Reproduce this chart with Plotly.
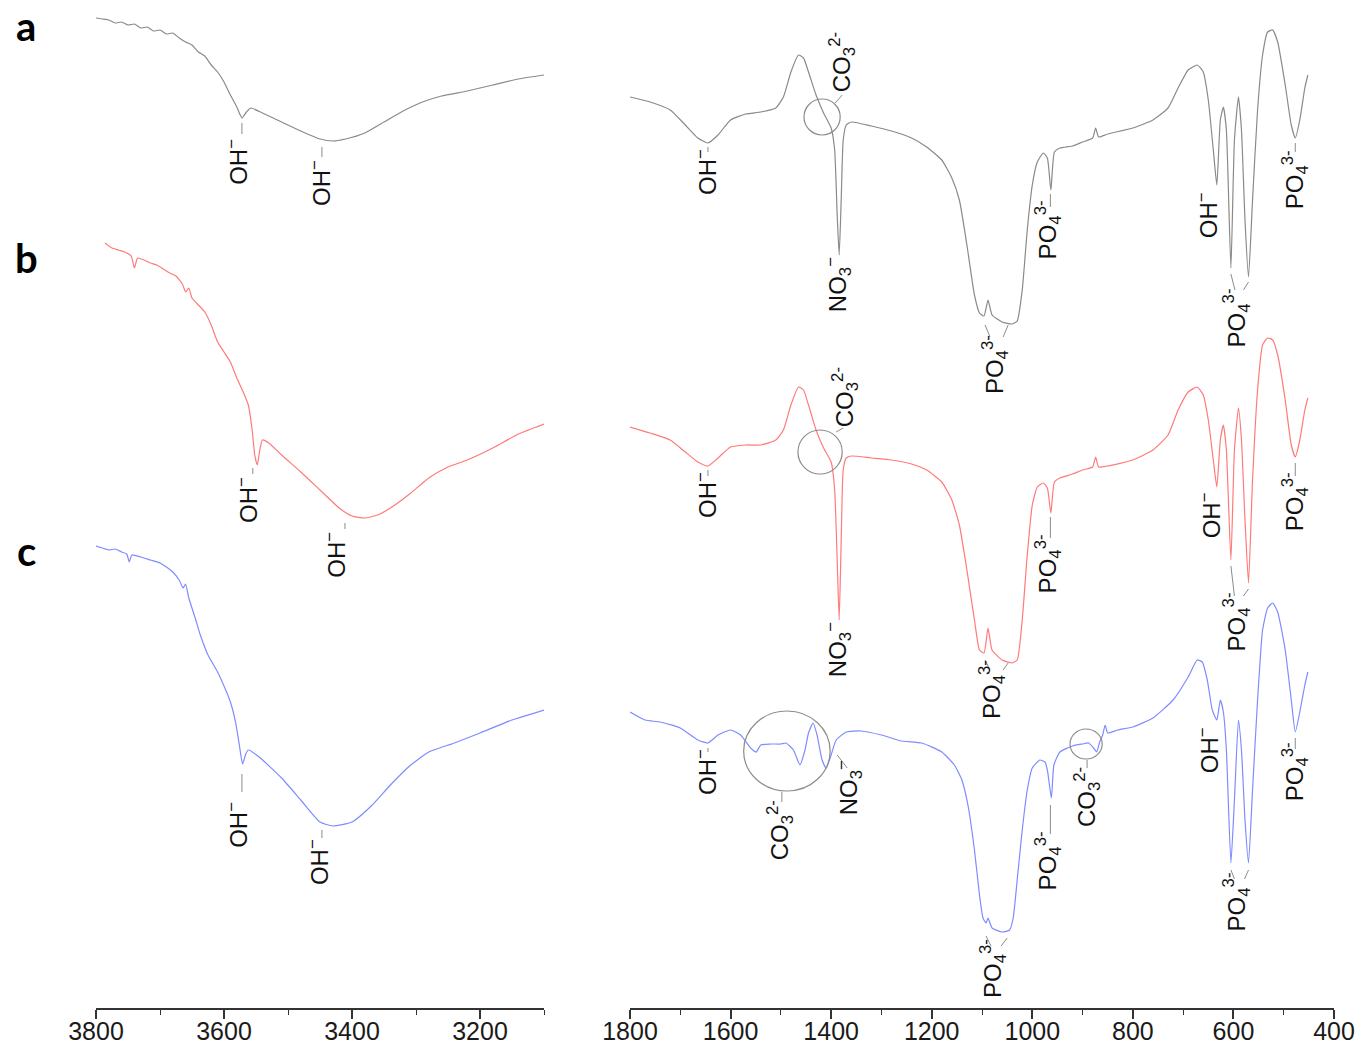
import plotly.graph_objects as go

# ---------------- data (transmittance, arbitrary units, spectra stacked) ----------------
# Left panel (3800-3100 cm-1)
wn_a_left = [3800, 3790, 3780, 3770, 3760, 3750, 3740, 3730, 3720, 3710, 3700, 3690, 3680, 3670,
             3660, 3650, 3640, 3630, 3620, 3610, 3600, 3590, 3580, 3572, 3565, 3558, 3540, 3510,
             3480, 3450, 3430, 3410, 3380, 3350, 3320, 3290, 3260, 3220, 3180, 3140, 3100]
t_a_left = [982, 981, 980, 977, 978, 975, 976, 972, 973, 969, 970, 966, 967, 962,
            958, 955, 948, 944, 935, 928, 918, 905, 893, 882, 888, 892, 887, 878,
            869, 861, 859, 861, 867, 878, 889, 898, 904, 909, 915, 921, 925]

wn_b_left = [3786, 3775, 3765, 3755, 3745, 3740, 3735, 3725, 3715, 3705, 3695, 3685, 3675, 3665,
             3660, 3655, 3650, 3640, 3630, 3620, 3610, 3600, 3590, 3580, 3570, 3562, 3556, 3552,
             3548, 3544, 3540, 3530, 3510, 3480, 3450, 3420, 3400, 3380, 3360, 3340, 3310, 3280,
             3250, 3220, 3180, 3140, 3100]
t_b_left = [757, 752, 750, 748, 744, 732, 742, 740, 737, 735, 731, 727, 724, 716,
            708, 712, 702, 695, 688, 675, 658, 648, 638, 622, 608, 595, 570, 545,
            535, 550, 560, 557, 545, 528, 510, 492, 484, 482, 485, 492, 506, 522,
            533, 540, 552, 566, 576]

wn_c_left = [3800, 3790, 3780, 3770, 3760, 3752, 3748, 3744, 3730, 3715, 3700, 3690, 3680, 3670,
             3664, 3660, 3655, 3645, 3637, 3625, 3610, 3600, 3590, 3582, 3576, 3571, 3566, 3562,
             3545, 3510, 3480, 3450, 3430, 3400, 3370, 3340, 3310, 3280, 3240, 3200, 3150, 3100]
t_c_left = [454, 452, 450, 451, 448, 446, 438, 445, 443, 440, 437, 433, 428, 420,
            412, 416, 402, 382, 365, 345, 328, 314, 298, 278, 255, 236, 246, 250,
            243, 222, 200, 178, 174, 178, 194, 215, 234, 248, 257, 267, 280, 290]

# Right panel (1800-400 cm-1)
wn_ab_right = [1800, 1760, 1720, 1690, 1665, 1645, 1625, 1600, 1570, 1540, 1510, 1495, 1480, 1465,
               1455, 1445, 1430, 1415, 1400, 1393, 1388, 1384, 1380, 1376, 1370, 1360, 1320, 1280,
               1240, 1210, 1180, 1160, 1145, 1130, 1115, 1105, 1096, 1088, 1080, 1060, 1040, 1030,
               1020, 1010, 1000, 990, 978, 970, 963, 956, 945, 920, 900, 880, 874, 868, 850, 800,
               760, 730, 710, 690, 672, 660, 650, 640, 633, 626, 620, 614, 605, 598, 590, 584,
               577, 570, 562, 552, 542, 532, 522, 512, 497, 485, 477, 468, 458, 452]
t_a_right = [903, 898, 890, 875, 862, 857, 865, 880, 886, 888, 892, 903, 928, 945,
             942, 928, 905, 887, 872, 850, 785, 745, 800, 860, 875, 878, 874, 869,
             862, 853, 840, 822, 800, 755, 705, 687, 684, 700, 685, 678, 676, 679,
             710, 770, 815, 838, 847, 842, 810, 848, 852, 854, 858, 862, 872, 863, 866, 872,
             880, 892, 912, 930, 935, 928, 900, 850, 815, 880, 893, 870, 732, 860, 903, 870,
             780, 723, 800, 890, 945, 968, 970, 958, 915, 875, 862, 880, 912, 925]
t_b_right = [573, 567, 560, 548, 538, 534, 542, 553, 555, 555, 560, 570, 595, 613,
             610, 595, 570, 552, 538, 510, 440, 380, 460, 530, 542, 544, 542, 540,
             536, 530, 518, 500, 475, 430, 380, 350, 347, 372, 350, 340, 337, 340,
             380, 445, 495, 513, 517, 512, 487, 518, 522, 526, 530, 533, 543, 533, 534, 540,
             550, 565, 590, 608, 613, 605, 580, 540, 513, 560, 575, 550, 440, 550, 592, 560,
             480, 417, 520, 610, 655, 662, 660, 645, 600, 555, 543, 560, 590, 602]

wn_c_right = [1800, 1770, 1740, 1700, 1665, 1645, 1625, 1600, 1580, 1560, 1549, 1540, 1520, 1500,
              1490, 1475, 1462, 1452, 1445, 1436, 1428, 1418, 1410, 1400, 1390, 1370, 1340, 1300,
              1260, 1220, 1180, 1155, 1140, 1128, 1115, 1105, 1098, 1092, 1088, 1080, 1060, 1045,
              1038, 1030, 1020, 1010, 1000, 985, 975, 970, 962, 957, 945, 920, 900, 888, 878, 872,
              866, 860, 855, 850, 830, 800, 760, 720, 690, 672, 662, 652, 642, 633, 626, 620,
              614, 605, 598, 590, 584, 577, 570, 562, 552, 542, 532, 522, 512, 497, 485, 477,
              468, 458, 452]
t_c_right = [288, 280, 278, 272, 260, 257, 265, 270, 265, 252, 248, 255, 256, 256,
             257, 250, 235, 250, 267, 277, 265, 240, 232, 245, 260, 268, 269, 265,
             259, 257, 248, 235, 220, 195, 150, 105, 82, 77, 82, 72, 68, 70,
             82, 120, 170, 210, 232, 240, 238, 230, 202, 235, 248, 254, 256, 257, 252, 248,
             258, 265, 275, 267, 270, 273, 282, 300, 323, 340, 338, 320, 290, 280, 300, 288,
             250, 137, 200, 280, 250, 180, 137, 210, 300, 370, 392, 397, 388, 350, 300, 268,
             288, 315, 328]

left_ticks = [3800, 3600, 3400, 3200]
left_minor = [3700, 3500, 3300, 3100]
right_ticks = [1800, 1600, 1400, 1200, 1000, 800, 600, 400]
right_minor = [1700, 1500, 1300, 1100, 900, 700, 500]

panel_letters = ["a", "b", "c"]

# band labels: (axis, text, wavenumber, y)
OH = "OH<sup>\u2212</sup>"
PO = "PO<sub>4</sub><sup>3-</sup>"
CO = "CO<sub>3</sub><sup>2-</sup>"
NO = "NO<sub>3</sub><sup>\u2212</sup>"
band_labels = [
    ("x", OH, 3580, 838), ("x", OH, 3450, 817),
    ("x2", OH, 1649, 828), ("x2", CO, 1378, 938), ("x2", NO, 1386, 715), ("x2", PO, 1074, 635),
    ("x2", PO, 968, 770), ("x2", OH, 652, 785), ("x2", PO, 594, 682), ("x2", PO, 477, 820),
    ("x", OH, 3564, 500), ("x", OH, 3427, 445),
    ("x2", OH, 1649, 505), ("x2", CO, 1372, 603), ("x2", NO, 1386, 350), ("x2", PO, 1080, 310),
    ("x2", PO, 968, 436), ("x2", OH, 646, 485), ("x2", PO, 594, 378), ("x2", PO, 477, 498),
    ("x", OH, 3580, 175), ("x", OH, 3453, 138),
    ("x2", OH, 1649, 228), ("x2", CO, 1501, 170), ("x2", NO, 1364, 212), ("x2", PO, 1078, 31),
    ("x2", PO, 968, 139), ("x2", CO, 891, 203), ("x2", OH, 650, 250), ("x2", PO, 594, 98),
    ("x2", PO, 477, 228),
]
# leader lines: (axis, wn0, y0, wn1, y1)
leaders = [
    ("x", 3572, 877, 3572, 866), ("x", 3447, 853, 3447, 843),
    ("x2", 1645, 853, 1645, 848), ("x2", 1392, 897, 1378, 905),
    ("x2", 1094, 675, 1084, 663), ("x2", 1048, 675, 1058, 663),
    ("x2", 964, 806, 964, 793), ("x2", 605, 726, 597, 710), ("x2", 570, 718, 580, 710),
    ("x2", 477, 857, 477, 848),
    ("x", 3555, 532, 3555, 526), ("x", 3411, 477, 3411, 471),
    ("x2", 1645, 530, 1645, 524), ("x2", 1390, 568, 1376, 572),
    ("x2", 1094, 340, 1084, 330), ("x2", 1048, 337, 1058, 330),
    ("x2", 964, 483, 964, 462), ("x2", 605, 434, 598, 404), ("x2", 570, 411, 580, 404),
    ("x2", 477, 537, 477, 524),
    ("x", 3572, 226, 3572, 208), ("x", 3447, 170, 3447, 162),
    ("x2", 1645, 252, 1645, 248), ("x2", 1498, 208, 1498, 198), ("x2", 1388, 245, 1368, 232),
    ("x2", 1092, 64, 1082, 54), ("x2", 1050, 62, 1062, 54),
    ("x2", 964, 195, 964, 166), ("x2", 891, 240, 891, 232),
    ("x2", 605, 130, 598, 121), ("x2", 570, 130, 578, 121), ("x2", 477, 262, 477, 251),
]
# highlighted regions (circles): wn0, wn1, y0, y1
circles = [(1454, 1382, 865, 901), (1466, 1378, 526, 570), (1574, 1402, 209, 289), (925, 861, 241, 271)]

# ---------------- figure ----------------
W, H = 1370, 1052
colors = {"a": "#8a8a8a", "b": "#ff7a7a", "c": "#7f8cff"}

fig = go.Figure()
series = [
    ("a", "x", wn_a_left, t_a_left), ("b", "x", wn_b_left, t_b_left), ("c", "x", wn_c_left, t_c_left),
    ("a", "x2", wn_ab_right, t_a_right), ("b", "x2", wn_ab_right, t_b_right), ("c", "x2", wn_c_right, t_c_right),
]
for name, xa, xs, ys in series:
    fig.add_trace(go.Scatter(x=xs, y=ys, xaxis=xa, yaxis="y", mode="lines",
                             line=dict(color=colors[name], width=1.2, shape="spline", smoothing=0.5),
                             showlegend=False, hoverinfo="skip"))

lab_font = dict(family="Liberation Sans, Arial, sans-serif", size=24, color="#111111")
annotations = []
for xa, txt, x, y in band_labels:
    annotations.append(dict(xref=xa, yref="y", x=x, y=y, text=txt, textangle=-90, showarrow=False,
                            xanchor="center", yanchor="middle", font=lab_font))
for i, letter in enumerate(panel_letters):
    py_top = [0, 232, 525][i]
    annotations.append(dict(xref="paper", yref="paper", x=26 / W, y=1 - py_top / H, text="<b>" + letter + "</b>",
                            showarrow=False, xanchor="center", yanchor="top",
                            font=dict(family="Lato, Liberation Sans, sans-serif", size=40, color="#000000")))

shapes = []
for xa, x0, y0, x1, y1 in leaders:
    shapes.append(dict(type="line", xref=xa, yref="y", x0=x0, y0=y0, x1=x1, y1=y1,
                       line=dict(color="#8c8c8c", width=1)))
for x0, x1, y0, y1 in circles:
    shapes.append(dict(type="circle", xref="x2", yref="y", x0=x0, x1=x1, y0=y0, y1=y1,
                       line=dict(color="#8c8c8c", width=1.2)))

axis_common = dict(showline=True, linecolor="#333333", linewidth=1.5, ticks="outside", ticklen=9,
                   tickwidth=1.5, tickcolor="#333333", showgrid=False, zeroline=False, anchor="y",
                   automargin=False, ticklabelstandoff=-9,
                   tickfont=dict(family="Liberation Sans, Arial, sans-serif", size=25, color="#1a1a1a"))
fig.update_layout(
    width=W, height=H, margin=dict(l=0, r=0, t=0, b=0, autoexpand=False),
    paper_bgcolor="white", plot_bgcolor="white",
    xaxis=dict(domain=[96 / W, 544 / W], range=[3800, 3100], tickvals=left_ticks,
               minor=dict(tickvals=left_minor, ticks="outside", ticklen=5, tickcolor="#333333", tickwidth=1.2),
               **axis_common),
    xaxis2=dict(domain=[630 / W, 1334 / W], range=[1800, 400], tickvals=right_ticks,
                minor=dict(tickvals=right_minor, ticks="outside", ticklen=5, tickcolor="#333333", tickwidth=1.2),
                **axis_common),
    yaxis=dict(domain=[44 / H, 1], range=[-8, 1000], visible=False, automargin=False),
    annotations=annotations, shapes=shapes,
)
fig.write_html("out.html", post_script="document.body.style.margin='0px';",
               config={"displayModeBar": False})
